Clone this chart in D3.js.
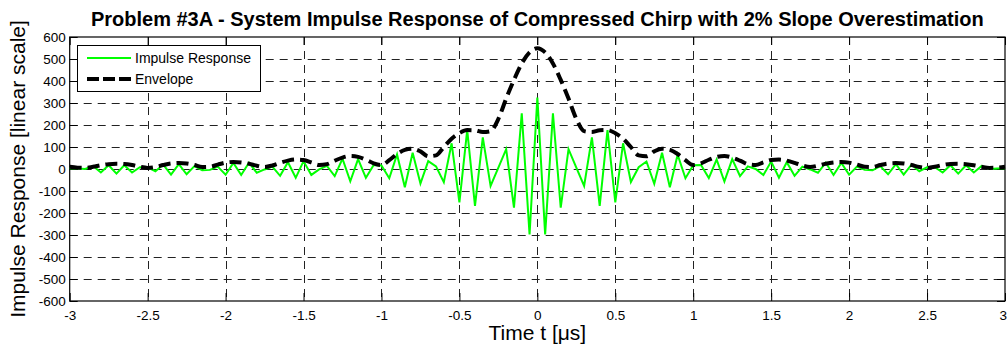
<!DOCTYPE html>
<html>
<head>
<meta charset="utf-8">
<script src="https://cdn.jsdelivr.net/npm/d3@7"></script>
<style>
  body { margin: 0; background: #fff; }
  svg text { font-family: "Liberation Sans", Arial, sans-serif; }
</style>
</head>
<body>
<svg id="drawing_region"></svg>
<script>
// sampling grid of the response
const timeStart = -3;
const timeStep = 0.05;

// sampled impulse response (linear scale), t = -3 ... 3 us
const impulse = [
    3, 2, 0, 14, -16, 17, -21, 17, -16, 8,
    8, -10, 20, -25, 22, -24, 13, -6, -4, 11,
    -26, 28, -27, 29, -17, -2, 11, -31, 31, -40,
    36, -27, -2, 14, -32, 47, -56, 45, -40, 18,
    16, -42, 66, -83, 74, -66, 36, 12, -60, 117,
    -152, 177, -168, 144, -77, 6, 90, -176, 253, -297,
    325,
    -297, 253, -176, 90, 6, -77, 144, -168, 177, -152,
    117, -59, 8, 34, -67, 74, -83, 65, -42, 17,
    18, -41, 43, -57, 45, -32, 12, 0, -27, 34,
    -40, 31, -31, 11, -2, -17, 29, -27, 28, -26,
    11, -4, -6, 13, -24, 22, -25, 20, -10, 8,
    8, -16, 17, -21, 17, -16, 14, 0, 2, 3
];

// envelope of the compressed pulse
const envelope = [
    10, 6, 5, 10, 17, 22, 24, 23, 18, 10,
    5, 9, 18, 25, 27, 25, 18, 9, 10, 20,
    29, 32, 30, 24, 15, 9, 16, 28, 38, 43,
    41, 30, 18, 22, 38, 52, 59, 55, 42, 26,
    18, 40, 68, 87, 92, 80, 58, 62, 100, 138,
    163, 177, 176, 168, 172, 228, 320, 405, 480, 530,
    549,
    530, 480, 405, 320, 228, 172, 168, 176, 177, 163,
    138, 100, 62, 58, 80, 92, 87, 68, 40, 18,
    26, 42, 55, 59, 52, 38, 22, 18, 30, 41,
    43, 38, 28, 16, 9, 15, 24, 30, 32, 29,
    20, 10, 9, 18, 25, 27, 25, 18, 9, 5,
    10, 18, 23, 24, 22, 17, 10, 5, 6, 10
];

const xTicks = [-3, -2.5, -2, -1.5, -1, -0.5, 0, 0.5, 1, 1.5, 2, 2.5, 3];
const yTicks = [-600, -500, -400, -300, -200, -100, 0, 100, 200, 300, 400, 500, 600];

const seriesNames = ['Impulse Response', 'Envelope'];

class ImpulsePlot {

    constructor( config ) {
        this.config = config;
        this.init();
    }

    init() {
        let self = this;
        const c = self.config;

        self.svg = d3.select( c.parent )
            .attr('width', c.width)
            .attr('height', c.height);

        self.xscale = d3.scaleLinear()
            .domain([-3, 3])
            .range([c.left, c.right]);

        self.yscale = d3.scaleLinear()
            .domain([-600, 600])
            .range([c.bottom, c.top]);
    }

    render() {
        let self = this;
        const c = self.config;
        const x = self.xscale, y = self.yscale;
        const fmt = d => String(d);

        // grid
        const grid = self.svg.append('g')
            .attr('stroke', '#222')
            .attr('stroke-width', 1)
            .attr('stroke-dasharray', '8,6');
        grid.selectAll('.vg')
            .data(xTicks.slice(1, -1))
            .join('line')
            .attr('x1', d => Math.round(x(d)) + 0.5)
            .attr('x2', d => Math.round(x(d)) + 0.5)
            .attr('y1', c.top)
            .attr('y2', c.bottom);
        grid.selectAll('.hg')
            .data(yTicks.slice(1, -1))
            .join('line')
            .attr('y1', d => Math.round(y(d)) + 0.5)
            .attr('y2', d => Math.round(y(d)) + 0.5)
            .attr('x1', c.left)
            .attr('x2', c.right);

        // axes, ticks pointing inward
        const axisStyle = g => {
            g.select('.domain').remove();
            g.selectAll('text')
                .style('font-size', '13.5px')
                .attr('fill', '#000');
            g.selectAll('line').attr('stroke', '#000');
        };
        const xAxis = self.svg.append('g')
            .attr('transform', `translate(0, ${c.bottom})`)
            .call(d3.axisBottom(x).tickValues(xTicks).tickFormat(fmt)
                .tickSizeInner(-8).tickPadding(9))
            .call(axisStyle);
        // keep the last label inside the page
        xAxis.selectAll('.tick text')
            .filter(d => d === 3)
            .attr('text-anchor', 'end')
            .attr('x', 1.5);

        self.svg.append('g')
            .attr('transform', `translate(0, ${c.top})`)
            .call(d3.axisTop(x).tickValues(xTicks).tickFormat('')
                .tickSizeInner(-8))
            .call(axisStyle);
        self.svg.append('g')
            .attr('transform', `translate(${c.left}, 0)`)
            .call(d3.axisLeft(y).tickValues(yTicks).tickFormat(fmt)
                .tickSizeInner(-8).tickPadding(4))
            .call(axisStyle);
        self.svg.append('g')
            .attr('transform', `translate(${c.right}, 0)`)
            .call(d3.axisRight(y).tickValues(yTicks).tickFormat('')
                .tickSizeInner(-8))
            .call(axisStyle);

        self.svg.append('rect')
            .attr('x', c.left)
            .attr('y', c.top)
            .attr('width', c.right - c.left)
            .attr('height', c.bottom - c.top)
            .attr('fill', 'none')
            .attr('stroke', '#000')
            .attr('stroke-width', 1.2);

        // series
        const tOf = i => timeStart + i * timeStep;

        const green = d3.line()
            .x((d, i) => x(tOf(i)))
            .y(d => y(d));
        self.svg.append('path')
            .datum(impulse)
            .attr('d', green)
            .attr('fill', 'none')
            .attr('stroke', '#00ff00')
            .attr('stroke-width', 2);

        const env = d3.line()
            .x((d, i) => x(tOf(i)))
            .y(d => y(d))
            .curve(d3.curveMonotoneX);
        self.svg.append('path')
            .datum(envelope)
            .attr('d', env)
            .attr('fill', 'none')
            .attr('stroke', '#000')
            .attr('stroke-width', 4)
            .attr('stroke-dasharray', '12,6');

        // legend
        const lg = self.svg.append('g');
        lg.append('rect')
            .attr('x', 77.5).attr('y', 45.5)
            .attr('width', 183).attr('height', 46)
            .attr('fill', '#fff')
            .attr('stroke', '#000');
        lg.append('line')
            .attr('x1', 87).attr('x2', 131)
            .attr('y1', 58).attr('y2', 58)
            .attr('stroke', '#00ff00').attr('stroke-width', 2);
        lg.append('line')
            .attr('x1', 87).attr('x2', 131)
            .attr('y1', 79).attr('y2', 79)
            .attr('stroke', '#000').attr('stroke-width', 4)
            .attr('stroke-dasharray', '12,4');
        lg.selectAll('text')
            .data(seriesNames)
            .join('text')
            .attr('x', 135)
            .attr('y', (d, i) => 63 + i * 21)
            .style('font-size', '14px')
            .text(d => d);

        // titles
        self.svg.append('text')
            .attr('x', (c.left + c.right) / 2)
            .attr('y', 26)
            .attr('text-anchor', 'middle')
            .style('font-size', '20px')
            .style('font-weight', 'bold')
            .text('Problem #3A - System Impulse Response of Compressed Chirp with 2% Slope Overestimation');

        self.svg.append('text')
            .attr('x', (c.left + c.right) / 2)
            .attr('y', 340)
            .attr('text-anchor', 'middle')
            .style('font-size', '21px')
            .text('Time t [μs]');

        self.svg.append('text')
            .attr('transform', `translate(25, ${(c.top + c.bottom) / 2}) rotate(-90)`)
            .attr('text-anchor', 'middle')
            .style('font-size', '21px')
            .text('Impulse Response [linear scale]');
    }
}

const config = {
    parent: '#drawing_region',
    width: 1007,
    height: 348,
    left: 69.7,
    right: 1005,
    top: 37,
    bottom: 301
};

const plot = new ImpulsePlot( config );
plot.render();
</script>
</body>
</html>
